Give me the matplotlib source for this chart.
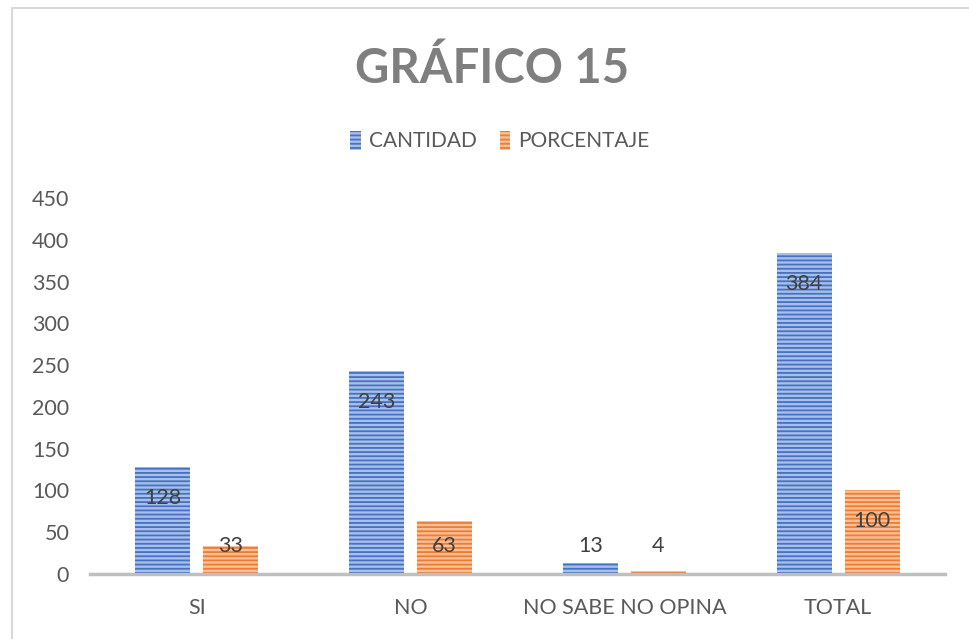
import numpy as np
import matplotlib
matplotlib.use("Agg")
import matplotlib.pyplot as plt
from matplotlib.patches import Rectangle, Patch

categories = ["SI", "NO", "NO SABE NO OPINA", "TOTAL"]
cantidad = [128, 243, 13, 384]
porcentaje = [33, 63, 4, 100]
series_names = ["CANTIDAD", "PORCENTAJE"]
y_ticks = [0, 50, 100, 150, 200, 250, 300, 350, 400, 450]

FONT = ["Lato", "DejaVu Sans"]
plt.rcParams["font.family"] = FONT
plt.rcParams["hatch.linewidth"] = 1.3

BLUE_DARK, BLUE_LIGHT = "#4472C4", "#A9BFE8"
ORANGE_DARK, ORANGE_LIGHT = "#ED7D31", "#F7BF9A"

fig = plt.figure(figsize=(9.69, 6.39), dpi=100)
ax = fig.add_axes([90 / 969, 65 / 639, 855 / 969, 376 / 639])

x = np.arange(len(categories))
w = 0.257
off = 0.159
ax.bar(x - off, cantidad, w, facecolor=BLUE_LIGHT, edgecolor=BLUE_DARK,
       hatch="----", linewidth=0)
ax.bar(x + off, porcentaje, w, facecolor=ORANGE_LIGHT, edgecolor=ORANGE_DARK,
       hatch="----", linewidth=0)

# data labels: inside end, but never lower than just above the axis
for xs, vals in ((x - off, cantidad), (x + off, porcentaje)):
    for xi, v in zip(xs, vals):
        ax.text(xi, max(v - 37, 34), str(v), ha="center", va="center",
                fontsize=15.5, color="#404040")

ax.set_xlim(-0.5, 3.5)
ax.set_ylim(0, 450)
ax.set_yticks(y_ticks)
ax.set_xticks(x)
ax.set_xticklabels(categories)
ax.tick_params(axis="y", length=0, pad=15, labelsize=15.5, labelcolor="#595959")
ax.tick_params(axis="x", length=0, pad=17, labelsize=15.5, labelcolor="#595959")
for s in ("top", "right", "left"):
    ax.spines[s].set_visible(False)
ax.spines["bottom"].set_color("#BFBFBF")
ax.spines["bottom"].set_linewidth(2.5)

fig.text(0.508, 1 - 83 / 639, "GRÁFICO 15", ha="center", va="baseline", fontsize=34,
         fontweight="bold", color="#7F7F7F")

handles = [Patch(facecolor=BLUE_LIGHT, edgecolor=BLUE_DARK, hatch="----", linewidth=0),
           Patch(facecolor=ORANGE_LIGHT, edgecolor=ORANGE_DARK, hatch="----", linewidth=0)]
fig.legend(handles, series_names, loc="center", bbox_to_anchor=(0.516, 0.779),
           ncol=2, frameon=False, fontsize=15, labelcolor="#595959",
           handlelength=0.5, handleheight=1.0, handletextpad=0.4, columnspacing=1.1)

# chart-area border (top and left visible in the crop)
fig.add_artist(Rectangle((12 / 969, -0.2), 1.2, 1.2 - 8 / 639, transform=fig.transFigure,
                         fill=False, edgecolor="#D9D9D9", linewidth=1.5))

fig.savefig("out.png", dpi=100)
